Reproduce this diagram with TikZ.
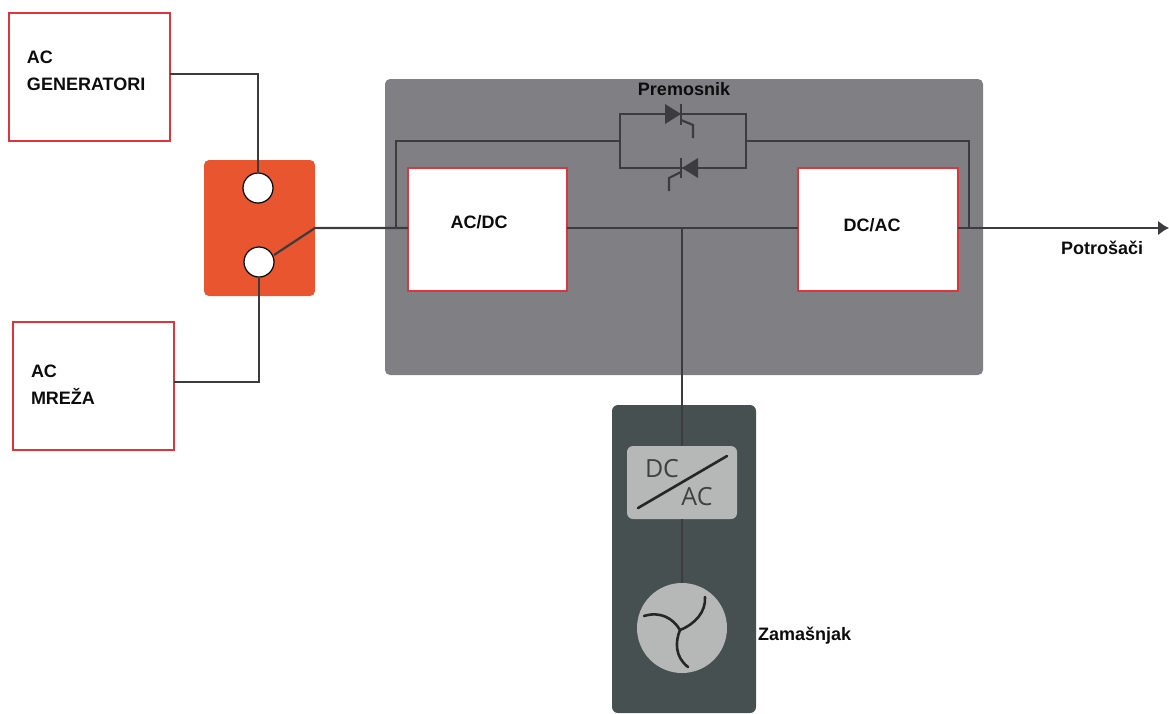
\documentclass[tikz,border=0pt]{standalone}
\usepackage{fontspec}
\usetikzlibrary{arrows.meta}
\setmainfont{Liberation Sans}
\newfontfamily\lightfont{Open Sans}
\definecolor{redline}{HTML}{E0343C}
\definecolor{orangebox}{HTML}{E9552F}
\definecolor{grayblock}{HTML}{808084}
\definecolor{darkblock}{HTML}{475050}
\definecolor{lightblock}{HTML}{B6B8B7}
\definecolor{wire}{HTML}{3C3C40}
\tikzset{
  x=1pt,y=-1pt,
  pane/.style={anchor=center,inner sep=0pt,outer sep=0pt,rounded corners=#1},
  redbox/.style={draw=redline,line width=1.3pt,fill=white,anchor=center,inner sep=0pt,outer sep=0pt},
  terminal/.style={circle,draw=black,line width=1.2pt,fill=white,minimum size=30pt,inner sep=0pt,outer sep=0pt},
  wireline/.style={draw=wire,line width=2.2pt},
  thinwire/.style={draw=wire,line width=2.2pt},
  blade/.style={draw=black!85,line width=2.6pt,line cap=round},
  lbl/.style={font=\fontsize{18}{27}\selectfont\bfseries,inner sep=0pt,outer sep=0pt,text=black!95,align=left},
  lighttext/.style={font=\lightfont\fontsize{25}{25}\selectfont,text=black!75,inner sep=0pt}
}
\begin{document}
\begin{tikzpicture}
\useasboundingbox (0,0) rectangle (1169,713);
% panes
\node[pane=5pt,fill=orangebox,minimum width=111pt,minimum height=136pt] (sw) at (259.5,228) {};
\node[pane=5pt,fill=grayblock,minimum width=598pt,minimum height=296pt] (ups) at (684,227) {};
\node[pane=6pt,fill=darkblock,minimum width=144pt,minimum height=308pt] (fly) at (684,559) {};
% coordinates for wiring
\coordinate (bus) at (682,228);
\coordinate (swout) at (315,228);
\coordinate (gencorner) at (258,74);
\coordinate (gridcorner) at (259,382);
\coordinate (tapL) at (396,228);
\coordinate (tapR) at (969,228);
\coordinate (byL) at (396,141);
\coordinate (byR) at (969,141);
\coordinate (bL) at (620,141);
\coordinate (bR) at (746,141);
\coordinate (bTL) at (620,114);
\coordinate (bTR) at (746,114);
\coordinate (bBL) at (620,168);
\coordinate (bBR) at (746,168);
\coordinate (load) at (1169,228);
% boxes
\node[redbox,minimum width=161pt,minimum height=128pt] (gen) at (89.5,77) {};
\node[redbox,minimum width=161pt,minimum height=128pt] (grid) at (93.5,386) {};
\node[redbox,minimum width=159pt,minimum height=123pt] (acdc) at (487.5,229.5) {};
\node[redbox,minimum width=160pt,minimum height=123pt] (dcac) at (878,229.5) {};
\node[terminal] (t1) at (258,188) {};
\node[terminal] (t2) at (259,262) {};
% wires
\draw[thinwire] (gen.east |- gencorner) -- (gencorner) -- (t1.north);
\draw[thinwire] (grid.east |- gridcorner) -- (gridcorner) -- (t2.south);
\draw[thinwire] (t2) ++(15,-7) coordinate (t2out) -- (swout) -- (acdc.west |- swout);
\draw[wireline] (tapL) -- (byL) -- (bL);
\draw[wireline] (bL) -- (bTL) -- (bTR) -- (bR) -- (bBR) -- (bBL) -- cycle;
\draw[wireline] (bR) -- (byR) -- (tapR);
\draw[wireline] (acdc.east |- bus) -- (dcac.west |- bus);
\draw[wireline,-{Latex[length=11pt,width=15pt]}] (dcac.east |- load) -- (load);
% thyristors
\fill[wire] (665,104) -- (681,114) -- (665,124) -- cycle;
\draw[wire,line width=2.8pt] (681,104) -- (681,125);
\draw[wireline] (681,120) -- (693,125) -- (693,138);
\fill[wire] (698,158) -- (682,168) -- (698,178) -- cycle;
\draw[wire,line width=2.8pt] (681,158) -- (681,178);
\draw[wireline] (681,172) -- (669,178) -- (669,191);
% flywheel unit
\node[pane=6pt,fill=lightblock,minimum width=110pt,minimum height=73pt] (conv) at (682,482.5) {};
\node[circle,fill=lightblock,minimum size=90pt,inner sep=0pt,outer sep=0pt] (wheel) at (682,628) {};
\draw[wireline] (bus) -- (conv.north);
\draw[wireline] (conv.south) -- (wheel.north);
\draw[line width=2.6pt,draw=black!85,line cap=round] (638,508) -- (727,456);
\node[lighttext] (tdc) at (662,469) {DC};
\node[lighttext] (tac) at (697,497) {AC};
\coordinate (hub) at (680,630);
\draw[blade] (644,616) .. controls (660,611) and (673,618) .. (hub);
\draw[blade] (705,597) .. controls (706,612) and (695,624) .. (hub);
\draw[blade] (688,667) .. controls (675,657) and (675,642) .. (hub);
% labels
\node[lbl,anchor=west] (l1) at (27,70.5) {AC\\GENERATORI};
\node[lbl,anchor=west] (l2) at (31,384.5) {AC\\MREŽA};
\node[lbl] (l3) at (479,222) {AC/DC};
\node[lbl] (l4) at (872,225) {DC/AC};
\node[lbl] (l5) at (684,89) {Premosnik};
\node[lbl,anchor=west] (l6) at (1061,248) {Potrošači};
\node[lbl,anchor=west] (l7) at (758,636) {Zamašnjak};
\end{tikzpicture}
\end{document}
